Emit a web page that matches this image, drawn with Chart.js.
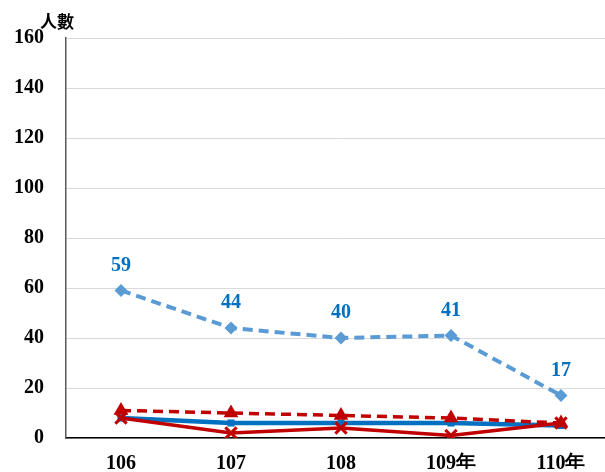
<!DOCTYPE html>
<html>
<head>
<meta charset="utf-8">
<script src="https://cdn.jsdelivr.net/npm/chart.js@4/dist/chart.umd.min.js"></script>
<style>
html,body{margin:0;padding:0;background:#fff;overflow:hidden;}
#wrap{width:605px;height:472px;overflow:hidden;position:relative;}
canvas{display:block;}
</style>
</head>
<body>
<div id="wrap"><canvas id="c" width="630" height="472"></canvas></div>
<script>
const categories = ["106", "107", "108", "109年", "110年"];
const seriesLightBlue = [59, 44, 40, 41, 17];
const seriesDarkBlue = [8, 6, 6, 6, 5];
const seriesRedDashed = [11, 10, 9, 8, 6];
const seriesRedSolid = [8, 2, 4, 1, 6];
const yTicks = [0, 20, 40, 60, 80, 100, 120, 140, 160];
const yTitle = "人數";

const serif = "'Liberation Serif','Times New Roman',serif";

const labelPlugin = {
  id: 'labels',
  afterDatasetsDraw(chart) {
    const ctx = chart.ctx;
    const meta = chart.getDatasetMeta(0);
    ctx.save();
    ctx.font = "bold 20px " + serif;
    ctx.fillStyle = "#0070C0";
    ctx.textAlign = "center";
    ctx.textBaseline = "middle";
    meta.data.forEach((pt, i) => {
      ctx.fillText(String(seriesLightBlue[i]), pt.x, pt.y - 25);
    });
    ctx.restore();
  },
  afterDraw(chart) {
    const ctx = chart.ctx;
    ctx.save();
    ctx.font = "bold 17px 'Noto Sans CJK TC'";
    ctx.fillStyle = "#000";
    ctx.textAlign = "center";
    ctx.textBaseline = "middle";
    ctx.fillText(yTitle, 57, 22);
    ctx.restore();
  }
};

new Chart(document.getElementById('c'), {
  type: 'line',
  data: {
    labels: categories,
    datasets: [
      {
        data: seriesLightBlue,
        borderColor: '#5B9BD5',
        backgroundColor: '#5B9BD5',
        borderWidth: 4,
        borderDash: [10, 6],
        pointStyle: 'rectRot',
        pointRadius: 6.5,
        pointBorderWidth: 0,
        order: 1
      },
      {
        data: seriesDarkBlue,
        borderColor: '#0070C0',
        backgroundColor: '#0070C0',
        borderWidth: 4.5,
        pointStyle: 'rect',
        pointRadius: 5,
        pointBorderWidth: 0,
        order: 5
      },
      {
        data: seriesRedDashed,
        borderColor: '#C00000',
        backgroundColor: '#C00000',
        borderWidth: 3.5,
        borderDash: [10, 6],
        pointStyle: 'triangle',
        pointRadius: 8.5,
        pointBorderWidth: 0,
        order: 3
      },
      {
        data: seriesRedSolid,
        borderColor: '#C00000',
        backgroundColor: '#C00000',
        borderWidth: 3.5,
        pointStyle: 'crossRot',
        pointRadius: 8,
        pointBorderWidth: 3,
        order: 4
      }
    ]
  },
  options: {
    responsive: false,
    animation: false,
    layout: { autoPadding: false, padding: { top: 38, right: 14, left: 0, bottom: 0 } },
    plugins: { legend: { display: false }, tooltip: { enabled: false } },
    elements: { line: { tension: 0 } },
    scales: {
      x: {
        offset: true,
        grid: { display: false, drawTicks: false },
        border: { display: true, color: '#000', width: 1.5 },
        ticks: { color: '#000', font: { family: serif, size: 20, weight: 'bold' }, padding: 14, maxRotation: 0 },
        afterFit(s) { s.height = 31; }
      },
      y: {
        min: 0, max: 160,
        afterBuildTicks(s) { s.ticks = yTicks.map(v => ({ value: v })); },
        grid: { color: '#d9d9d9', lineWidth: 1, drawTicks: false },
        border: { display: true, color: '#595959', width: 1.5 },
        ticks: { color: '#000', font: { family: serif, size: 20, weight: 'bold' }, padding: 22 },
        afterFit(s) { s.width = 66; }
      }
    }
  },
  plugins: [labelPlugin]
});
</script>
</body>
</html>
